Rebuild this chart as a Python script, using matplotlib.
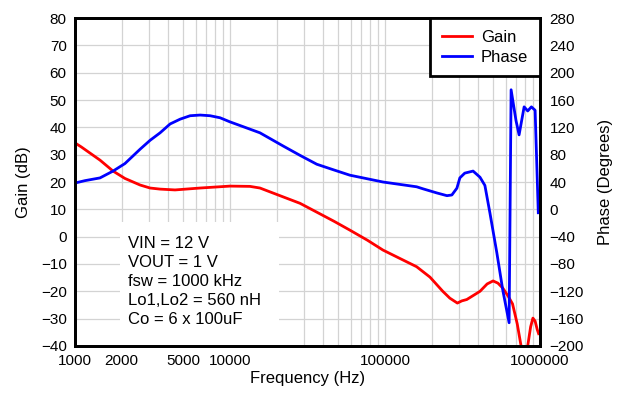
import numpy as np
import matplotlib
matplotlib.use('Agg')
import matplotlib.pyplot as plt
from matplotlib.patches import Rectangle

# Gain (dB) vs frequency (Hz)
gain_freq = [1000, 1100, 1450, 1760, 2100, 2630, 3050, 3540, 4420, 6420,
             10000, 13450, 15600, 21000, 28300, 36200, 47000, 59300, 77000,
             97000, 125000, 160000, 195000, 236000, 262000, 293000, 313000,
             337000, 410000, 456000, 498000, 535000, 575000, 622000, 665000,
             713000, 755000, 790000, 833000, 870000, 900000, 930000, 960000,
             980000]
gain_db = [34.3, 32.8, 28.0, 24.0, 21.3, 18.9, 17.8, 17.4, 17.1, 17.8,
           18.5, 18.4, 17.8, 15.0, 12.2, 9.0, 5.6, 2.4, -1.3,
           -4.9, -8.0, -11.0, -14.8, -20.0, -22.5, -24.3, -23.5,
           -23.0, -20.0, -17.3, -16.2, -17.0, -18.8, -21.7, -24.6,
           -31.9, -40.0, -44.0, -40.0, -33.0, -29.8, -30.9, -34.0,
           -35.5]

# Phase (deg) vs frequency (Hz)
phase_freq = [1000, 1160, 1450, 1760, 2100, 2630, 3050, 3540, 4110, 4770,
              5530, 6420, 7440, 8630, 10000, 12500, 15600, 21900, 28300,
              36300, 46300, 59300, 97000, 160000, 176000, 216000, 251000,
              270000, 291000, 304000, 327000, 370000, 410000, 441000, 475000,
              527000, 575000, 632000, 651000, 700000, 733000, 790000, 833000,
              880000, 930000, 975000]
phase_deg = [38.5, 42, 46, 56, 67, 88, 101, 112, 125, 132,
             137, 138, 137, 134, 128, 120, 112, 93, 79,
             66, 58, 50, 40, 33, 30, 24, 20,
             21, 31, 46, 53, 56, 47, 35, -5,
             -64, -118, -166, 175, 130, 109, 150, 144,
             150, 145, -5]

notes = "VIN = 12 V\nVOUT = 1 V\nfsw = 1000 kHz\nLo1,Lo2 = 560 nH\nCo = 6 x 100uF"
xticks = [1000, 2000, 5000, 10000, 100000, 1000000]

plt.rcParams['font.family'] = ['Liberation Sans', 'DejaVu Sans']
plt.rcParams['font.size'] = 11

fig = plt.figure(figsize=(6.25, 3.98), dpi=100)
ax = fig.add_axes([0.12, 0.1307, 0.744, 0.824])
ax2 = ax.twinx()

ax.plot(gain_freq, gain_db, color='#ff0000', lw=2.0, zorder=2, label='Gain')
ax2.plot(phase_freq, phase_deg, color='#0000ff', lw=2.0, zorder=2, label='Phase')

ax.set_xscale('log')
ax.set_xlim(1000, 1000000)
ax.set_ylim(-40, 80)
ax.set_yticks(np.arange(-40, 81, 10))
ax2.set_ylim(-200, 280)
ax2.set_yticks(np.arange(-200, 281, 40))
ax.set_xticks(xticks)
ax.set_xticklabels([str(t) for t in xticks])

ax.grid(True, which='both', axis='x', color='#d3d3d3', lw=0.9)
ax.grid(True, which='major', axis='y', color='#d3d3d3', lw=0.9)

for a in (ax, ax2):
    a.tick_params(which='both', length=0)
    for s in a.spines.values():
        s.set_linewidth(2)
ax.tick_params(axis='y', pad=6)
ax.tick_params(axis='x', pad=6)
ax2.tick_params(axis='y', pad=7)

ax.set_xlabel('Frequency (Hz)', fontsize=12, labelpad=2)
ax.set_ylabel('Gain (dB)', fontsize=12, labelpad=7)
ax2.set_ylabel('Phase (Degrees)', fontsize=12, labelpad=10)

# white box behind the notes (hides grid)
ax.add_patch(Rectangle((0.097, 0.0), 0.342, 0.378, transform=ax.transAxes,
                       facecolor='white', edgecolor='none', zorder=1.6))
ax.text(0.114, 0.336, notes, transform=ax.transAxes, va='top', ha='left',
        fontsize=12, linespacing=1.33, zorder=3)

# legend
h1, l1 = ax.get_legend_handles_labels()
h2, l2 = ax2.get_legend_handles_labels()
leg = ax2.legend(h1 + h2, l1 + l2, loc='upper right', bbox_to_anchor=(1.0, 1.0),
                 borderaxespad=0, fancybox=False, framealpha=1, fontsize=12,
                 handlelength=1.8, handletextpad=0.55, borderpad=0.7,
                 labelspacing=0.3)
leg.get_frame().set_edgecolor('black')
leg.get_frame().set_linewidth(2)

fig.savefig('out.png', dpi=100)
